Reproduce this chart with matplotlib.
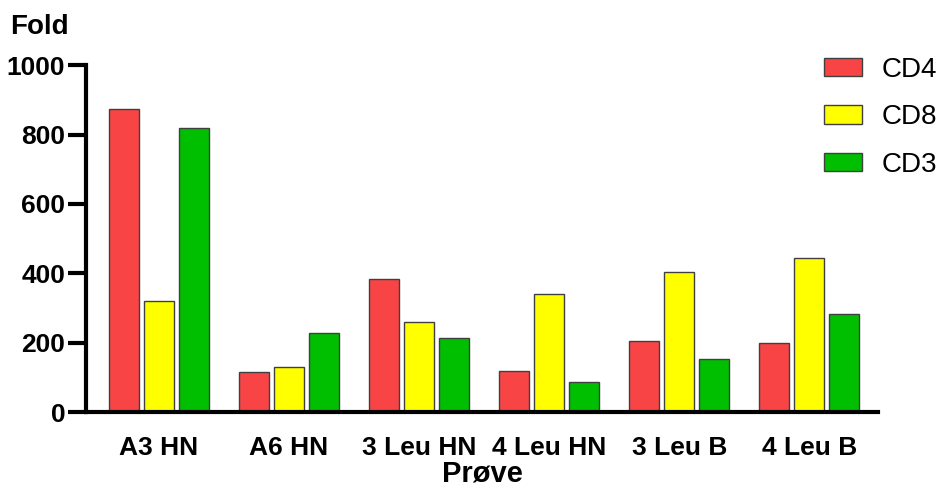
import matplotlib
matplotlib.use("Agg")
import matplotlib.pyplot as plt
import numpy as np

plt.rcParams['font.family'] = ['Liberation Sans', 'DejaVu Sans']

samples = ['A3 HN', 'A6 HN', '3 Leu HN', '4 Leu HN', '3 Leu B', '4 Leu B']
cd4 = [873, 115, 383, 118, 205, 199]
cd8 = [320, 130, 259, 340, 403, 444]
cd3 = [818, 228, 213, 86, 153, 282]
series = [('CD4', cd4, '#f84444'), ('CD8', cd8, '#ffff00'), ('CD3', cd3, '#00bf00')]
y_ticks = [0, 200, 400, 600, 800, 1000]

fig = plt.figure(figsize=(9.42, 4.9), dpi=100)
ax = fig.add_axes([0.0913, 0.159, 0.841, 0.708])

x = np.arange(len(samples))
bar_w = 0.23
step = 0.27
for i, (name, vals, col) in enumerate(series):
    ax.bar(x + (i - 1) * step, vals, width=bar_w, color=col,
           edgecolor='#404040', linewidth=1, label=name, zorder=2)

ax.set_xlim(-0.56, 5.53)
ax.set_ylim(0, 1000)
ax.set_yticks(y_ticks)
ax.set_yticklabels([str(t) for t in y_ticks], fontsize=19, fontweight='bold')
ax.set_xticks(x)
ax.set_xticklabels(samples, fontsize=19, fontweight='bold')
ax.tick_params(axis='y', length=13, width=3, pad=2)
ax.tick_params(axis='x', length=0, pad=17)

for s in ['top', 'right']:
    ax.spines[s].set_visible(False)
for s in ['left', 'bottom']:
    ax.spines[s].set_linewidth(3)
ax.spines['left'].set_zorder(3)
ax.spines['bottom'].set_zorder(3)

ax.set_xlabel('Prøve', fontsize=21, fontweight='bold', labelpad=0)
fig.text(0.011, 0.945, 'Fold', fontsize=20, fontweight='bold', va='center', ha='left')

fig.legend(loc='upper left', bbox_to_anchor=(0.848, 0.935), frameon=False,
           fontsize=20, handlelength=1.37, handleheight=0.65,
           labelspacing=0.77, handletextpad=0.72)

fig.savefig('out.png', dpi=100)
